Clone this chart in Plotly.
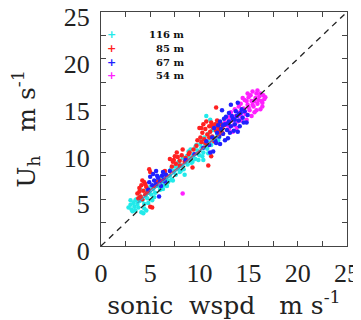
import plotly.graph_objects as go

# ---- data ----
labels = ["116 m", "85 m", "67 m", "54 m"]
colors = ["#22eaea", "#ff2020", "#2020ff", "#ff20ff"]

x116 = [2.8, 3.0, 3.1, 3.3, 3.4, 3.6, 3.7, 3.9, 4.0, 4.1, 4.3, 4.2, 4.5, 4.7, 4.9, 5.1, 5.3, 5.5,
        5.8, 6.0, 6.2, 6.4, 6.6, 6.8, 7.0, 7.2, 7.4, 7.6, 7.8, 8.0, 8.2, 8.4, 8.6, 8.8, 9.0, 9.2,
        9.4, 9.6, 9.8, 10.0, 10.2, 10.4, 10.6, 10.8, 11.0, 11.2, 11.4, 11.6, 11.8, 11.5, 10.9, 10.2,
        9.6, 8.9, 8.3, 7.7, 12.0, 11.1, 10.7, 9.9, 8.5, 7.3, 6.3, 5.6, 4.8, 5.2, 3.5, 10.4, 10.9,
        3.2, 3.5, 3.8, 4.4, 4.0, 4.6, 5.0, 5.7, 6.1, 6.5, 6.9, 7.1, 7.5, 7.9, 8.1, 8.7, 9.1, 9.3,
        9.7, 10.1, 10.5, 10.3, 11.3, 11.7, 12.2, 11.9, 6.7, 5.4, 4.4, 3.0, 4.6, 8.0, 9.3, 12.4]
y116 = [4.1, 4.4, 3.9, 4.6, 4.2, 5.0, 4.5, 4.8, 5.3, 3.6, 3.5, 4.9, 5.4, 5.1, 5.8, 5.5, 6.1, 5.7,
        6.4, 6.0, 6.9, 6.5, 7.2, 6.8, 7.5, 7.1, 8.0, 7.6, 8.3, 7.9, 8.6, 8.2, 9.1, 8.7, 9.4, 8.9,
        9.8, 9.3, 10.2, 9.7, 10.5, 10.0, 10.9, 10.4, 11.2, 10.8, 11.6, 11.1, 12.0, 12.4, 12.0, 11.4,
        10.6, 10.1, 9.4, 8.8, 11.6, 13.5, 13.9, 9.2, 7.6, 7.0, 6.1, 6.6, 4.6, 4.9, 3.8, 9.2, 9.9,
        3.7, 4.9, 4.1, 4.5, 6.0, 5.9, 6.3, 6.9, 7.4, 7.8, 7.0, 8.2, 8.5, 9.0, 8.0, 9.6, 10.3, 9.6,
        10.8, 10.9, 11.6, 9.6, 12.4, 13.0, 12.5, 11.3, 6.4, 5.2, 4.0, 4.9, 3.8, 8.6, 9.0, 13.0]

x85 = [3.7, 3.9, 4.0, 4.1, 4.3, 4.4, 4.5, 4.6, 4.8, 4.2, 3.8, 5.0, 5.0, 5.2, 5.4, 6.0, 6.6, 7.2,
       7.4, 7.6, 7.8, 8.0, 8.2, 8.0, 7.5, 8.6, 9.0, 9.4, 9.8, 10.1, 10.3, 10.5, 10.6, 10.8, 11.0,
       11.1, 11.3, 11.4, 11.6, 11.7, 11.9, 12.1, 12.3, 12.4, 11.7, 10.9, 11.2, 9.3, 10.0, 11.5, 12.0,
       3.9, 4.2, 4.5, 4.7, 4.9, 7.3, 7.7, 8.3, 8.5, 7.0, 10.2, 10.4, 10.7, 11.2, 11.8, 12.2, 12.5,
       11.0, 10.6, 12.0, 11.3, 10.2, 6.5, 5.6, 9.7, 8.9]
y85 = [5.6, 6.2, 5.3, 6.5, 5.9, 6.8, 5.5, 6.3, 6.0, 5.0, 5.1, 7.9, 4.2, 4.1, 6.4, 7.0, 7.6, 8.5,
       9.2, 8.8, 9.5, 9.1, 9.7, 8.6, 9.6, 9.4, 10.0, 10.3, 11.3, 11.6, 12.1, 11.4, 12.5, 11.9, 12.8,
       12.2, 11.7, 12.6, 13.0, 12.3, 12.7, 12.1, 12.6, 12.0, 14.8, 8.6, 9.6, 8.4, 12.6, 11.2, 13.1,
       5.8, 7.0, 6.6, 5.7, 8.2, 9.0, 10.0, 10.3, 9.0, 9.3, 12.6, 13.0, 13.3, 13.2, 13.4, 13.0, 12.9,
       11.6, 11.0, 12.4, 12.9, 11.1, 8.0, 6.9, 10.7, 9.8]

x67 = [4.8, 5.2, 5.4, 5.6, 5.8, 6.0, 6.2, 6.4, 6.6, 5.9, 5.6, 4.9, 7.0, 8.6, 9.5, 10.4, 10.7,
       11.0, 11.3, 11.6, 11.8, 12.0, 12.2, 12.4, 12.6, 12.8, 13.0, 13.2, 13.4, 13.6, 13.8, 14.0,
       14.2, 14.4, 14.6, 12.5, 13.0, 13.2, 13.9, 12.9, 13.5, 14.1, 11.4, 12.1, 14.8, 12.3,
       5.0, 5.3, 5.7, 6.1, 6.5, 6.3, 11.5, 11.9, 12.1, 12.7, 13.1, 13.3, 13.7, 14.3, 14.5, 14.9,
       12.6, 11.1, 13.6, 12.4, 12.9, 14.0, 11.7, 13.9]
y67 = [6.0, 6.5, 7.0, 6.6, 7.3, 6.9, 7.5, 7.1, 7.6, 5.3, 8.0, 6.8, 8.0, 9.2, 9.8, 10.5, 11.2,
       10.8, 11.6, 11.3, 12.1, 11.7, 12.5, 12.0, 13.0, 12.4, 13.3, 12.8, 13.6, 13.0, 13.9, 13.4,
       14.2, 13.7, 14.4, 13.6, 14.2, 15.1, 15.3, 11.5, 12.3, 12.8, 10.1, 10.9, 13.2, 14.5,
       7.4, 7.7, 7.5, 6.4, 6.9, 7.9, 12.6, 12.9, 13.3, 13.8, 12.1, 13.9, 14.4, 14.6, 13.2, 14.0,
       11.3, 10.0, 13.5, 12.9, 13.1, 14.1, 11.0, 12.2]

x54 = [12.3, 12.8, 13.0, 13.3, 13.5, 13.7, 13.9, 14.1, 14.3, 14.5, 14.7, 14.9, 15.1, 15.3, 15.5,
       15.7, 15.9, 16.1, 16.3, 16.5, 15.2, 14.6, 14.0, 15.8, 16.4, 15.6, 14.8, 13.8, 8.3, 13.2,
       15.0, 16.6, 12.6, 13.1, 13.6, 14.2, 14.4, 14.9, 15.4, 15.9, 16.2, 16.7, 16.2, 15.8, 15.4,
       14.6, 14.2, 13.4, 15.0, 15.6, 16.0, 14.8, 13.9, 16.4, 15.3, 12.9]
y54 = [12.1, 12.9, 12.5, 13.4, 12.9, 13.9, 13.3, 14.3, 13.8, 14.7, 14.1, 15.1, 14.5, 15.5, 14.9,
       15.8, 15.2, 16.0, 15.5, 16.1, 16.1, 15.6, 14.9, 16.3, 14.9, 14.3, 13.5, 12.6, 5.6, 14.3,
       15.9, 15.7, 13.2, 13.8, 14.6, 15.2, 15.8, 16.3, 16.5, 16.6, 16.3, 15.9, 14.6, 14.5, 15.1,
       14.3, 13.4, 12.2, 14.8, 15.5, 15.6, 15.5, 13.9, 15.3, 13.9, 13.6]

# fitted lines (end points)
fit85_x = [3.7, 12.5]
fit85_y = [4.9, 12.3]
fit116_x = [3.7, 12.0]
fit116_y = [4.6, 11.8]
diag = [0, 25]

series = [(x116, y116), (x85, y85), (x67, y67), (x54, y54)]
draw_order = [0, 3, 1, 2]

fig = go.Figure()
for i in draw_order:
    xs, ys = series[i]
    fig.add_trace(go.Scatter(x=xs, y=ys, mode="markers", name=labels[i],
                             marker=dict(symbol="circle", size=4.5, color=colors[i]),
                             showlegend=False))

fig.add_trace(go.Scatter(x=fit116_x, y=fit116_y, mode="lines",
                         line=dict(color="#3aa0c8", width=1.2), showlegend=False))
fig.add_trace(go.Scatter(x=fit85_x, y=fit85_y, mode="lines",
                         line=dict(color="#c83a5a", width=1.2), showlegend=False))
fig.add_trace(go.Scatter(x=diag, y=diag, mode="lines",
                         line=dict(color="#222222", width=1.3, dash="6px,5px"), showlegend=False))

tick_fam = "Liberation Serif"
title_fam = "DejaVu Serif"
NB = "\u00a0"
axis_common = dict(range=[0, 25], dtick=5, tick0=0, ticks="inside", ticklen=5,
                   tickcolor="#444", showline=True, linecolor="#444", linewidth=1,
                   mirror="ticks", showgrid=False, zeroline=False, automargin=False,
                   ticklabeloverflow="allow",
                   tickfont=dict(family=tick_fam, size=26, color="#222"),
                   minor=dict(ticks="inside", dtick=2.5, ticklen=5, tickcolor="#444"))

# page body has an 8px default margin, so the figure is sized/offset to compensate
fig.update_layout(
    width=353, height=312,
    margin=dict(l=93, r=14, t=4, b=74),
    paper_bgcolor="white", plot_bgcolor="white",
    xaxis=dict(**axis_common, ticklabelstandoff=4,
               title=dict(text="sonic" + NB * 2 + "wspd" + NB * 3 + "m" + NB + "s<sup>-1</sup>",
                          font=dict(family=title_fam, size=25, color="#222"), standoff=2)),
    yaxis=dict(**axis_common, ticklabelshift=5, ticklabelstandoff=5,
               title=dict(text="U<sub>h</sub>" + NB * 3 + "m" + NB + "s<sup>-1</sup>",
                          font=dict(family=title_fam, size=25, color="#222"), standoff=26)),
)

# legend drawn as annotations
row_y = [0.906, 0.846, 0.786, 0.731]
for lab, col, yy in zip(labels, colors, row_y):
    fig.add_annotation(xref="paper", yref="paper", x=0.042, y=yy, text="<b>+</b>",
                       showarrow=False, font=dict(family="DejaVu Sans", size=11, color=col),
                       xanchor="center", yanchor="middle", height=12)
    fig.add_annotation(xref="paper", yref="paper", x=0.345, y=yy, text="<b>" + lab + "</b>",
                       showarrow=False, font=dict(family=title_fam, size=10, color="#111"),
                       xanchor="right", yanchor="middle", height=12)

fig.write_html("out.html")
